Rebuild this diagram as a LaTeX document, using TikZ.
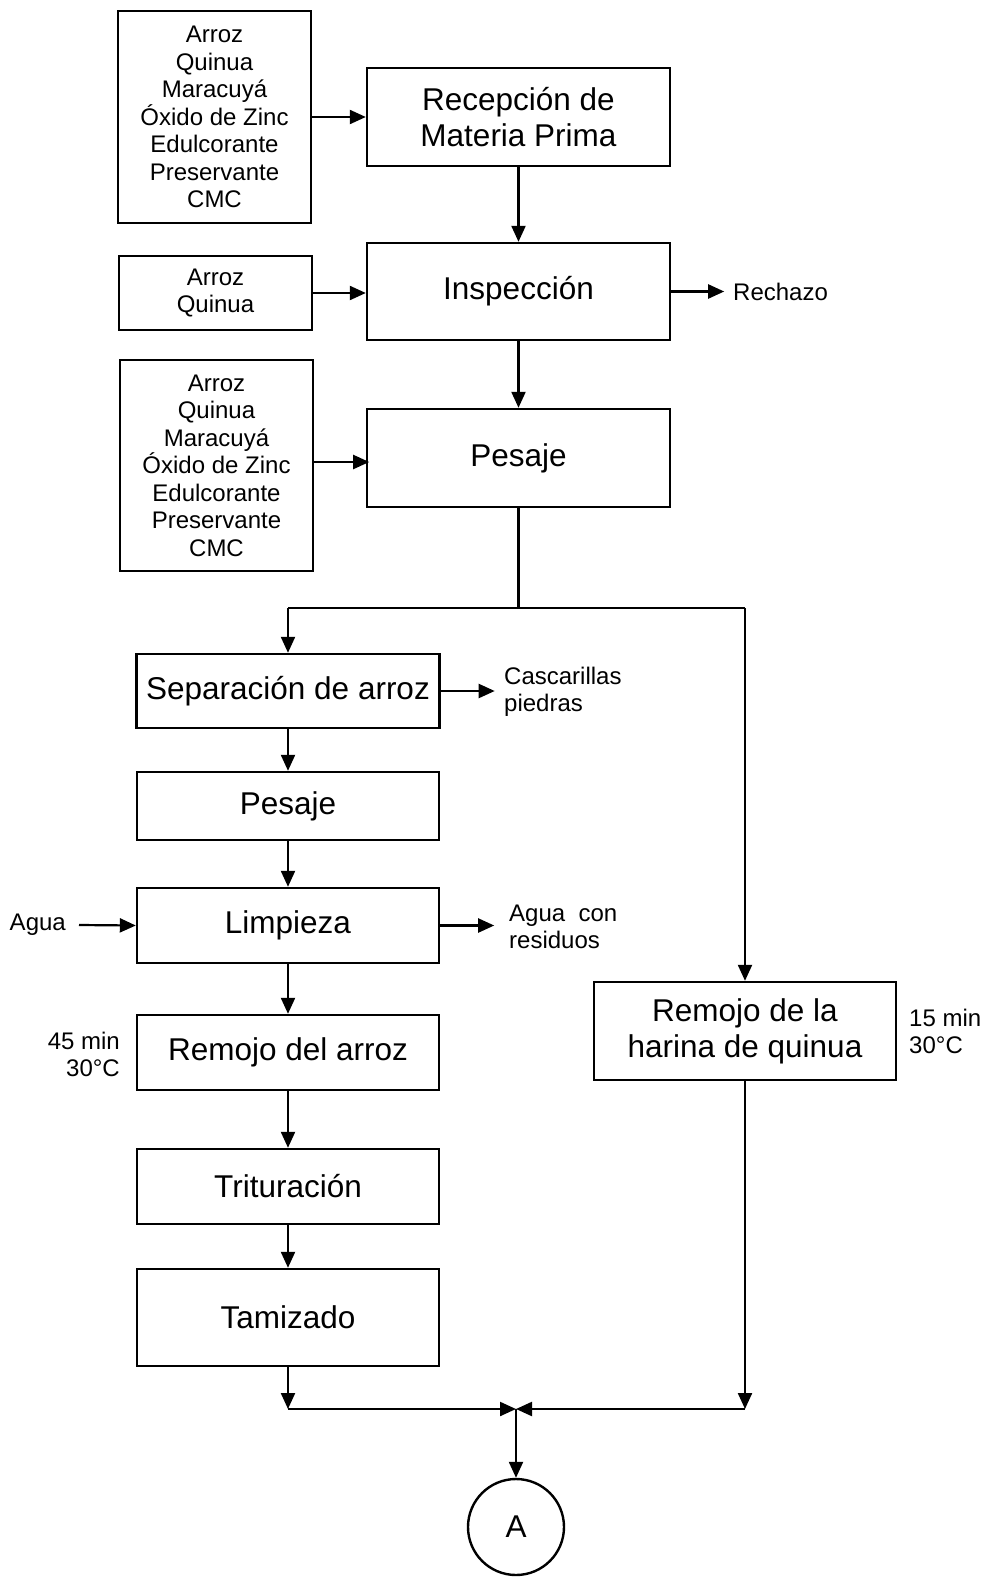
\documentclass[tikz,border=0pt]{standalone}
\usepackage{fontspec}
\setmainfont{Liberation Sans}
\usetikzlibrary{arrows.meta}
\begin{document}
\begin{tikzpicture}[x=1pt,y=-1pt,
  box/.style={draw, line width=2.4pt, inner sep=0pt, align=center,
    font=\fontsize{31.5}{36}\selectfont},
  inbox/.style={draw, line width=2.4pt, inner sep=0pt, align=center,
    font=\fontsize{24}{27.5}\selectfont},
  lbl/.style={inner sep=0pt, font=\fontsize{24}{27}\selectfont},
  flow/.style={line width=2.2pt, -{Triangle[length=16pt,width=14pt]}},
  link/.style={line width=2.2pt}]
\useasboundingbox (0,0) rectangle (987,1579);

% main column
\node[box, minimum width=303, minimum height=98] (rec) at (518.5,117) {Recepción de\\Materia Prima};
\node[box, minimum width=303, minimum height=97] (insp) at (518.5,291.5) {Inspección};
\node[box, minimum width=303, minimum height=98] (pes) at (518.5,458) {Pesaje};

% raw materials
\node[inbox, minimum width=193, minimum height=212] (mp1) at (214.5,117)
  {Arroz\\Quinua\\Maracuyá\\Óxido de Zinc\\Edulcorante\\Preservante\\CMC};
\node[inbox, minimum width=193, minimum height=74] (mp2) at (215.5,293) {Arroz\\Quinua};
\node[inbox, minimum width=193, minimum height=211] (mp3) at (216.5,465.5)
  {Arroz\\Quinua\\Maracuyá\\Óxido de Zinc\\Edulcorante\\Preservante\\CMC};

\node[lbl, anchor=west] (rech) at (733,291.5) {Rechazo};

% rice line
\node[box, minimum width=303, minimum height=74] (sep) at (288,691) {Separación de arroz};
\node[box, minimum width=302, minimum height=68] (pes2) at (288,806) {Pesaje};
\node[box, minimum width=302, minimum height=75] (limp) at (288,925.5) {Limpieza};
\node[box, minimum width=302, minimum height=75] (rema) at (288,1052.5) {Remojo del arroz};
\node[box, minimum width=302, minimum height=75] (trit) at (288,1186.5) {Trituración};
\node[box, minimum width=302, minimum height=97] (tam) at (288,1317.5) {Tamizado};

% quinoa line
\node[box, minimum width=302, minimum height=98] (remq) at (745,1031) {Remojo de la\\harina de quinua};

% side labels
\node[lbl, anchor=west, align=left] (casc) at (504,691.5) {Cascarillas\\piedras};
\node[lbl, anchor=east, inner xsep=13pt] (agua) at (79,925) {Agua};
\node[lbl, anchor=west, align=left] (res) at (509,927) {Agua~~con\\residuos};
\node[lbl, anchor=east, align=right] (t1) at (120,1054) {45 min\\30°C};
\node[lbl, anchor=west, align=left] (t2) at (909,1031.5) {15 min\\30°C};

% connector A
\node[draw, circle, line width=2.4pt, minimum size=96, inner sep=0pt,
  font=\fontsize{31.5}{36}\selectfont] (A) at (516,1527) {A};

\coordinate (split) at (518.5,608);
\coordinate (merge) at (516,1409);

% arrows
\draw[flow] (mp1.east) -- (rec.west);
\draw[flow] (rec.south) -- (insp.north);
\draw[flow] (mp2.east) -- (mp2.east -| insp.west);
\draw[flow] (insp.east) -- ++(53,0) coordinate (rtip);
\draw[flow] (insp.south) -- (pes.north);
\draw[flow] (pes.west -| mp3.east) ++(0,4) -- ++(55,0);

\draw[link] (pes.south) -- (split);
\draw[link] (sep.north |- split) -- (remq.north |- split);
\draw[flow] (sep.north |- split) -- (sep.north);
\draw[flow] (remq.north |- split) -- (remq.north);

\draw[flow] (sep.east) -- ++(54,0);
\draw[flow] (sep.south) -- (pes2.north);
\draw[flow] (pes2.south) -- (limp.north);
\draw[flow] (agua.east) -- (limp.west);
\draw[flow] (limp.east) -- ++(54,0);
\draw[flow] (limp.south) -- (rema.north);
\draw[flow] (rema.south) -- (trit.north);
\draw[flow] (trit.south) -- (tam.north);

\draw[flow] (tam.south) -- (tam.south |- merge);
\draw[flow] (remq.south) -- (remq.south |- merge);
\draw[flow] (tam.south |- merge) -- (merge);
\draw[flow] (remq.south |- merge) -- (merge);
\draw[flow] (merge) -- (A.north);
\end{tikzpicture}
\end{document}
